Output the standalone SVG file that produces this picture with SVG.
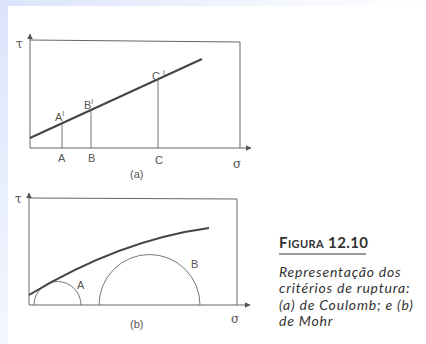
<svg xmlns="http://www.w3.org/2000/svg" width="426" height="344" viewBox="0 0 426 344">
<defs>
<linearGradient id="bgL" x1="0" y1="0" x2="0" y2="1"><stop offset="0" stop-color="#dbe4fb"/><stop offset="1" stop-color="#f4f7fe"/></linearGradient>
<linearGradient id="bgT" x1="0" y1="0" x2="1" y2="0"><stop offset="0" stop-color="#dbe4fb"/><stop offset="0.7" stop-color="#f6f8fe"/><stop offset="1" stop-color="#ffffff"/></linearGradient>
<marker id="arr" viewBox="0 0 10 10" refX="9" refY="5" markerWidth="6" markerHeight="6" orient="auto" markerUnits="userSpaceOnUse"><path d="M0,0 L10,5 L0,10 z" fill="#555"/></marker>
<style>
.ax{stroke:#666;stroke-width:1;fill:none}
.thin{stroke:#666;stroke-width:0.9;fill:none}
.env{stroke:#444;stroke-width:2;fill:none}
.lbl{font-family:"Liberation Sans",Arial,sans-serif;font-size:11px;fill:#555}
.gr{font-family:"DejaVu Serif",serif;font-size:12px;fill:#555}
.cap{font-family:Lato,"Open Sans",sans-serif;font-style:italic;font-size:14px;letter-spacing:0.8px;fill:#333}
</style>
</defs>
<rect width="426" height="344" fill="#ffffff"/>
<rect x="0" y="0" width="426" height="6" fill="url(#bgT)"/>
<rect x="0" y="0" width="8" height="344" fill="url(#bgL)"/>

<g id="plot-a">
<line class="ax" x1="30" y1="148" x2="30" y2="34" marker-end="url(#arr)"/>
<line class="ax" x1="30" y1="148" x2="251" y2="148" marker-end="url(#arr)"/>
<polyline class="ax" points="30,40 240,42 240,148"/>
<text class="gr" x="16" y="48">τ</text>
<text class="gr" x="233" y="168">σ</text>
<line class="env" x1="30" y1="138" x2="202" y2="59"/>
<line class="thin" x1="62" y1="124" x2="62" y2="148"/>
<line class="thin" x1="91" y1="111" x2="91" y2="148"/>
<line class="thin" x1="158" y1="80" x2="158" y2="148"/>
<text class="lbl" x="58" y="162">A</text>
<text class="lbl" x="88" y="162">B</text>
<text class="lbl" x="155" y="164">C</text>
<text class="lbl" x="55" y="121">A<tspan font-size="7" dy="-5">I</tspan></text>
<text class="lbl" x="84" y="109">B<tspan font-size="7" dy="-5">I</tspan></text>
<text class="lbl" x="152" y="80">C <tspan font-size="7" dy="-5">I</tspan></text>
<text class="lbl" x="130" y="178" font-size="12">(a)</text>
</g>

<g id="plot-b">
<line class="ax" x1="29" y1="305" x2="29" y2="193" marker-end="url(#arr)"/>
<line class="ax" x1="29" y1="305" x2="250" y2="305" marker-end="url(#arr)"/>
<polyline class="ax" points="29,198 237,199 237,305"/>
<text class="gr" x="15" y="203">τ</text>
<text class="gr" x="231" y="323">σ</text>
<path class="thin" d="M34,305 A23.5,23.5 0 0 1 81,305"/>
<path class="thin" d="M99,305 A50.5,50.5 0 0 1 200,305"/>
<path class="env" d="M29,295 Q120,240 209,228"/>
<text class="lbl" x="77" y="289">A</text>
<text class="lbl" x="191" y="268">B</text>
<text class="lbl" x="130" y="328" font-size="12">(b)</text>
</g>

<g id="caption">
<text x="279" y="248" font-family="Lato,'Open Sans',sans-serif" font-size="15" font-weight="bold" letter-spacing="0.4" fill="#333">F<tspan font-size="11">IGURA</tspan> 12.10</text>
<line x1="279" y1="254" x2="366" y2="254" stroke="#333" stroke-width="1"/>
<text class="cap" x="279" y="277">Representação dos</text>
<text class="cap" x="279" y="293">critérios de ruptura:</text>
<text class="cap" x="279" y="310">(a) de Coulomb; e (b)</text>
<text class="cap" x="279" y="326">de Mohr</text>
</g>
</svg>
